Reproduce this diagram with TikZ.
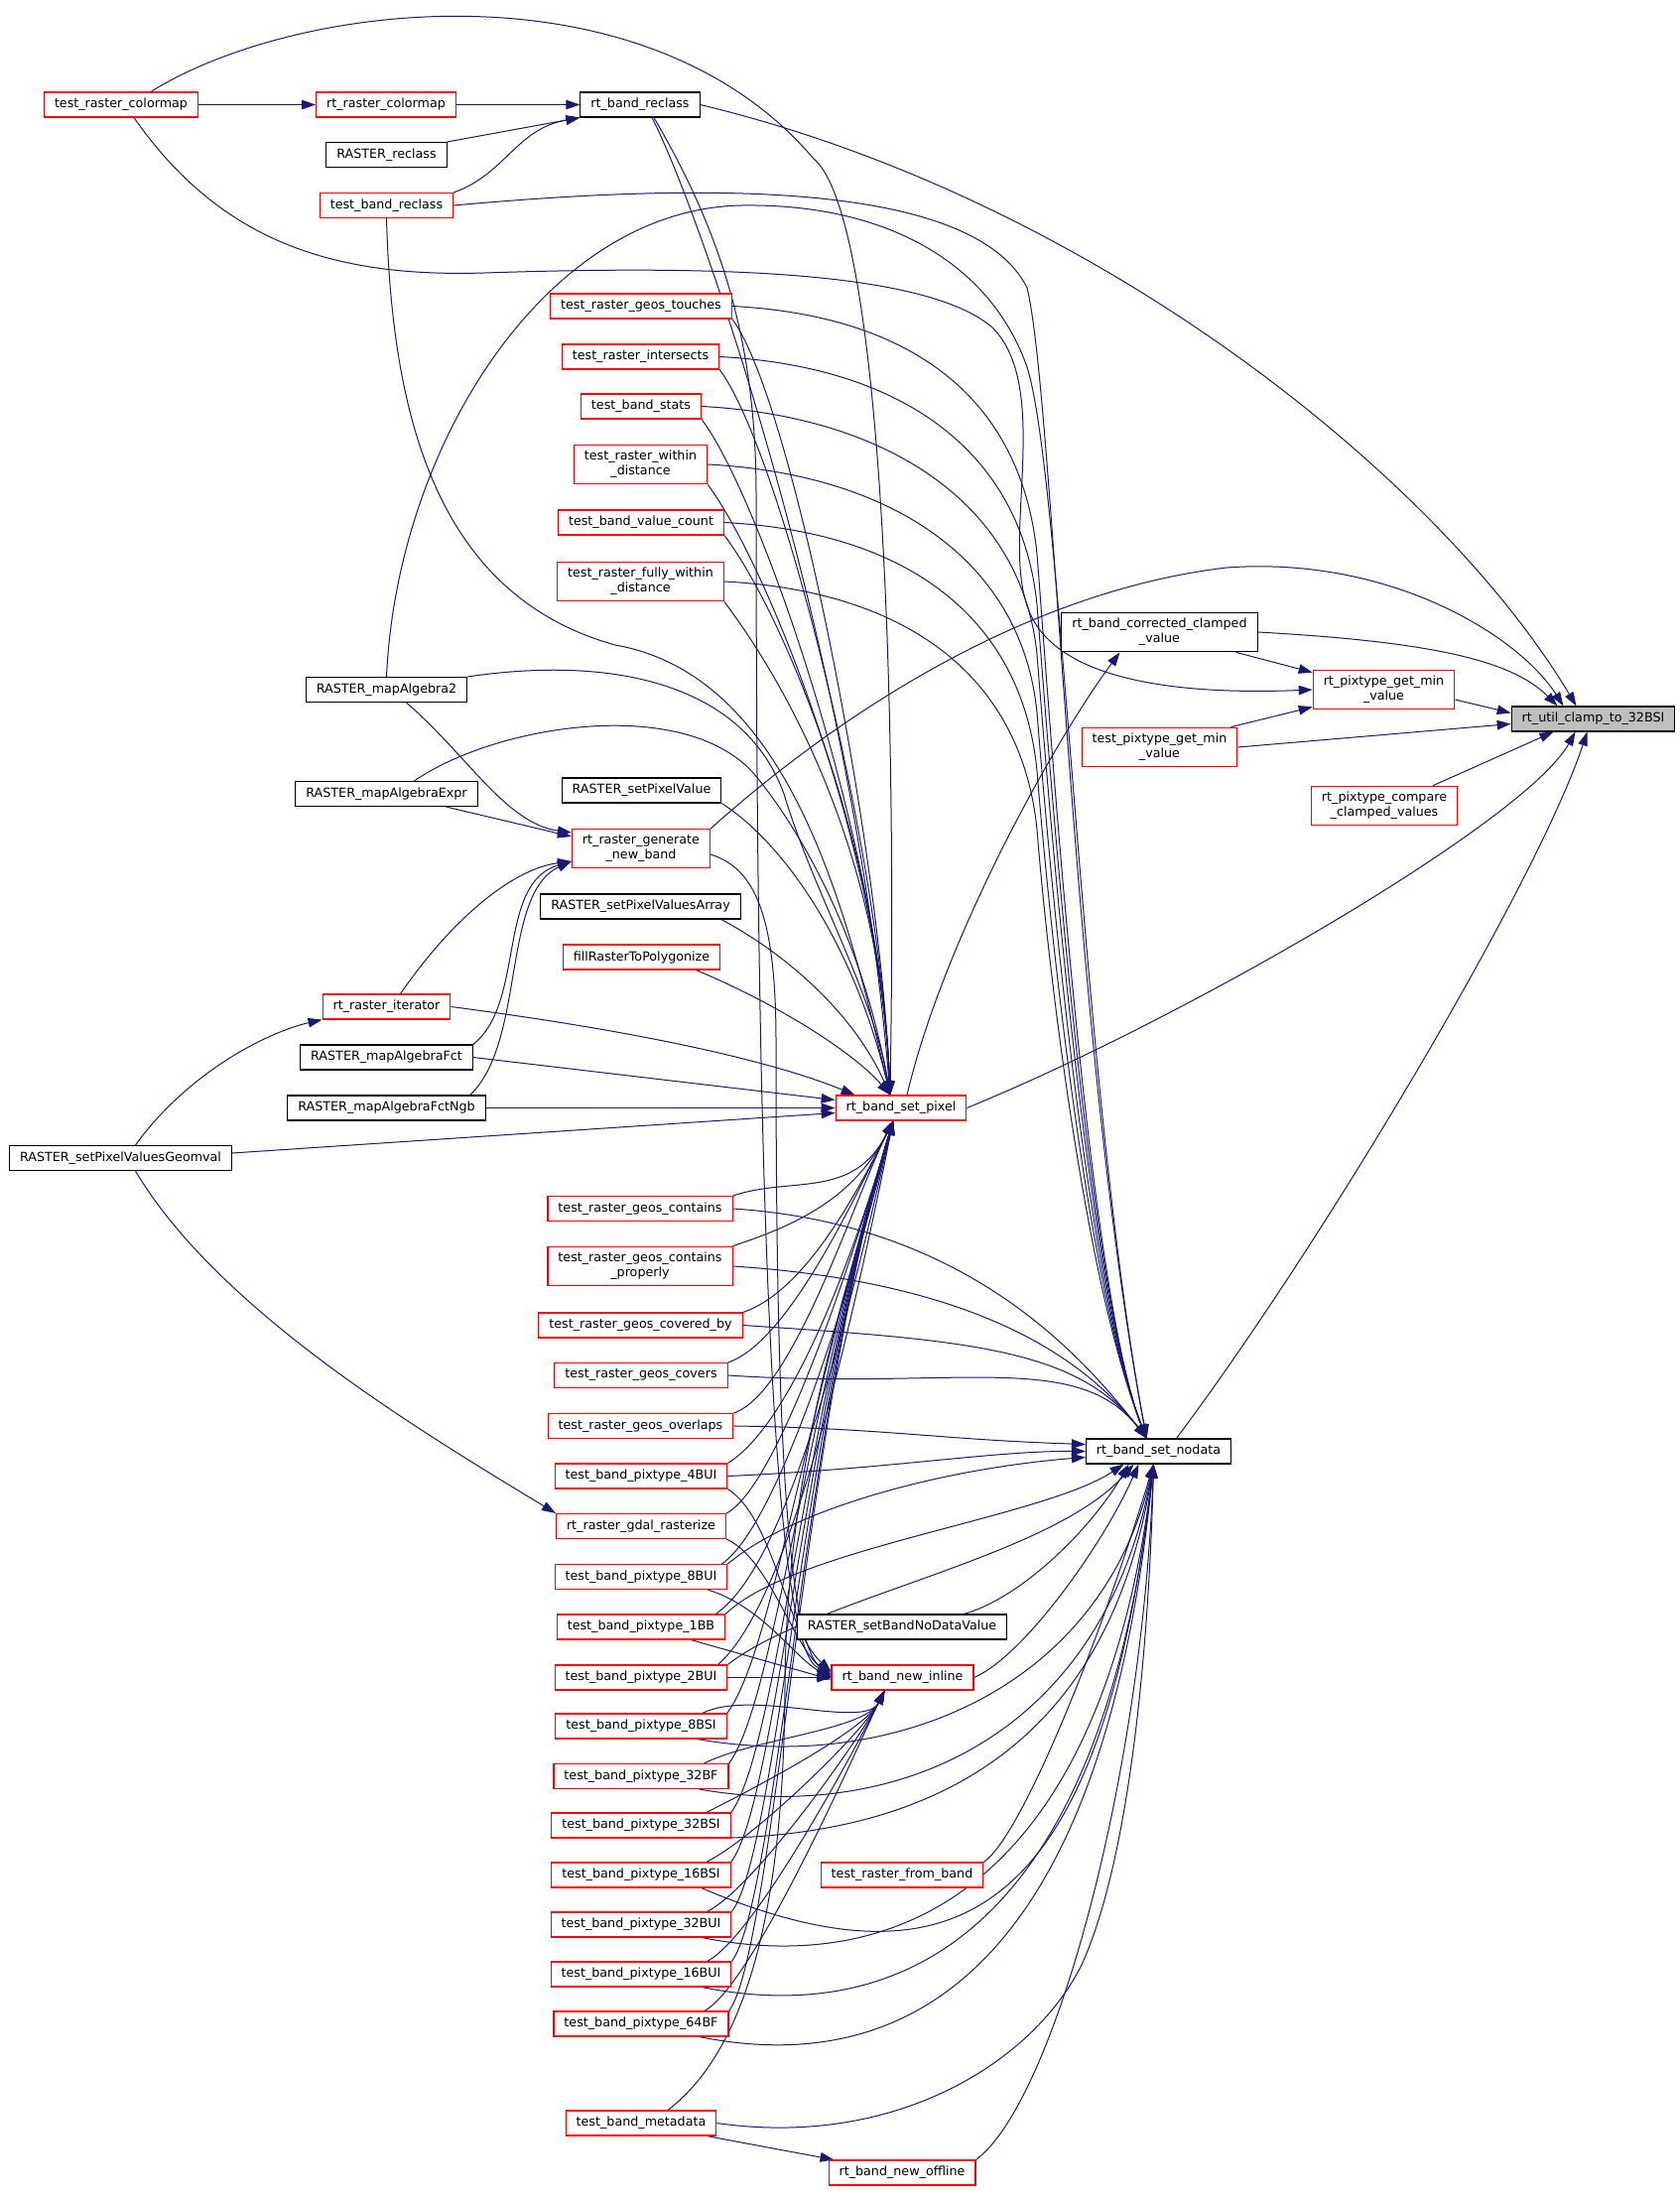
\documentclass[tikz,border=0pt]{standalone}
\usepackage{fontspec}
\setmainfont{DejaVu Sans}
\usetikzlibrary{arrows.meta}
\pgfdeclarelayer{fundo}
\pgfsetlayers{fundo,main}
\definecolor{arestas}{HTML}{191970}
\definecolor{alvo}{HTML}{BFBFBF}
\tikzset{
	fn/.style={draw=red, line width=1.1pt, fill=white, font=\fontsize{12.7}{15}\selectfont, inner xsep=10.5pt, inner ysep=6pt, minimum height=25pt, align=center},
	fnpreto/.style={fn, draw=black},
	fnalvo/.style={fnpreto, fill=alvo},
	chama/.style={draw=arestas, line width=1pt, -{Triangle[length=14pt,width=9.5pt]}}
}
\begin{document}
\begin{tikzpicture}[x=1pt,y=-1pt]
\begin{pgfonlayer}{fundo}
	\fill[white] (0,0) rectangle (1693,2215);
\end{pgfonlayer}
\useasboundingbox (0,0) rectangle (1693,2215);

% coluna da esquerda
	\node[fn] (trc) at (122,105.5) {test\_raster\_colormap};
	\node[fnpreto] (Rspvg) at (121.5,1167) {RASTER\_setPixelValuesGeomval};

% segunda coluna
	\node[fn] (rrc) at (389,105.5) {rt\_raster\_colormap};
	\node[fnpreto] (Rrec) at (389.5,156) {RASTER\_reclass};
	\node[fn] (tbr) at (389.5,207) {test\_band\_reclass};
	\node[fnpreto] (Rma2) at (389.5,695) {RASTER\_mapAlgebra2};
	\node[fnpreto] (Rmae) at (389.5,800) {RASTER\_mapAlgebraExpr};
	\node[fn] (rri) at (389.5,1014.5) {rt\_raster\_iterator};
	\node[fnpreto] (Rmaf) at (389.5,1065.5) {RASTER\_mapAlgebraFct};
	\node[fnpreto] (Rmafn) at (389.5,1116.5) {RASTER\_mapAlgebraFctNgb};

% coluna do meio
	\node[fnpreto] (rbr) at (645,105.5) {rt\_band\_reclass};
	\node[fn] (tgt) at (646,308.5) {test\_raster\_geos\_touches};
	\node[fn] (tri) at (645.5,359.5) {test\_raster\_intersects};
	\node[fn] (tbs) at (646,409.5) {test\_band\_stats};
	\node[fn] (trwd) at (645.5,468) {test\_raster\_within\\\_distance};
	\node[fn] (tbvc) at (646,526.5) {test\_band\_value\_count};
	\node[fn] (trfwd) at (645.5,586) {test\_raster\_fully\_within\\\_distance};
	\node[fnpreto] (Rspv) at (646.5,796.5) {RASTER\_setPixelValue};
	\node[fn] (rgnb) at (646,855) {rt\_raster\_generate\\\_new\_band};
	\node[fnpreto] (Rspva) at (645.5,913.5) {RASTER\_setPixelValuesArray};
	\node[fn] (frtp) at (646.5,964.5) {fillRasterToPolygonize};
	\node[fn] (tgc) at (645,1218) {test\_raster\_geos\_contains};
	\node[fn] (tgcp) at (645,1276) {test\_raster\_geos\_contains\\\_properly};
	\node[fn] (tgcb) at (645.5,1335.5) {test\_raster\_geos\_covered\_by};
	\node[fn] (tgcv) at (646,1386) {test\_raster\_geos\_covers};
	\node[fn] (tgo) at (645.5,1437) {test\_raster\_geos\_overlaps};
	\node[fn] (rgr) at (646,1538) {rt\_raster\_gdal\_rasterize};
	\foreach \t/\y in {4BUI/1487.5, 8BUI/1589, 1BB/1639.5, 2BUI/1690.5, 8BSI/1739.5, 32BF/1790, 32BSI/1839.5, 16BSI/1889.5, 32BUI/1939.5, 16BUI/1989.5, 64BF/2039.5}
		\node[fn] (p\t) at (646,\y) {test\_band\_pixtype\_\t};
	\node[fn] (tbm) at (646,2139.5) {test\_band\_metadata};

% quarta coluna
	\node[fn] (sp) at (908,1116.5) {rt\_band\_set\_pixel};
	\node[fnpreto] (Rsbnd) at (909,1639.5) {RASTER\_setBandNoDataValue};
	\node[fn] (nin) at (909.5,1690.5) {rt\_band\_new\_inline};
	\node[fn] (trfb) at (909,1889.5) {test\_raster\_from\_band};
	\node[fn] (nof) at (909,2189.5) {rt\_band\_new\_offline};

% coluna da direita
	\node[fnpreto] (cclamp) at (1168.5,637) {rt\_band\_corrected\_clamped\\\_value};
	\node[fn] (tpgm) at (1168.5,753) {test\_pixtype\_get\_min\\\_value};
	\node[fnpreto] (sn) at (1167.5,1462.5) {rt\_band\_set\_nodata};
	\node[fn] (pgm) at (1394.5,695) {rt\_pixtype\_get\_min\\\_value};
	\node[fn] (pcc) at (1395,812) {rt\_pixtype\_compare\\\_clamped\_values};
	\node[fnalvo] (clamp) at (1605.5,724.5) {rt\_util\_clamp\_to\_32BSI};

	\coordinate (spT) at ([xshift=-11pt]sp.north);
	\coordinate (spB) at ([xshift=-8pt]sp.south);
	\coordinate (snT) at ([xshift=-12pt]sn.north);
	\coordinate (snB) at ([xshift=-5pt]sn.south);
	\coordinate (ninB) at ([xshift=-18pt]nin.south);

\begin{pgfonlayer}{fundo}
% chamadas no alto
	\draw[chama] (trc.east) -- (rrc.west);
	\draw[chama] (rrc.east) -- (rbr.west);
	\draw[chama] (Rrec.north east) -- (rbr.south west);
	\draw[chama] (tbr.north east) .. controls (510,175) and (520,130) .. (rbr.south west);
	\draw[chama] ([xshift=30pt]trc.north) .. controls (300,0) and (650,-40) .. (820,160) .. controls (880,210) and (905,600) .. (spT);
	\draw[chama] ([xshift=13pt]trc.south) .. controls (220,240) and (330,280) .. (488,275) .. controls (700,268) and (930,270) .. (1000,330) .. controls (1060,390) and (1010,540) .. (1035,610) .. controls (1060,690) and (1200,700) .. (pgm.west);
	\draw[chama] (tbr.south) .. controls (395,420) and (440,600) .. (620,650) .. controls (790,680) and (850,900) .. (spT);
	\draw[chama] (tbr.east) .. controls (700,185) and (980,180) .. (1035,290) .. controls (1062,400) and (1080,1050) .. (snT);
	\draw[chama] (rbr.east) .. controls (1100,200) and (1450,480) .. ([xshift=-17pt]clamp.north);
	\draw[chama] ([xshift=12pt]rbr.south) .. controls (700,200) and (860,650) .. (spT);
	\draw[chama] ([xshift=14pt]rbr.south) .. controls (730,240) and (762,350) .. (762,500) .. controls (762,1000) and (770,1660) .. ([yshift=5pt]nin.west);

% testes do meio
	\foreach \n/\y in {tgt/308.5, tri/359.5, tbs/409.5, trwd/468, tbvc/526.5, trfwd/586}{
		\draw[chama] (\n.south east) .. controls +(60,80) and +(-10,-250) .. (spT);
		\draw[chama] (\n.east) .. controls +(190,10) and +(-15,-150) .. (1045,\y+250) .. controls +(12,150) and +(-60,-150) .. (snT);
	}

% funcoes RASTER
	\draw[chama] (Rma2.north) .. controls (400,450) and (550,210) .. (748,207) .. controls (900,205) and (1000,270) .. (1035,370) .. controls (1070,480) and (1090,1100) .. (snT);
	\draw[chama] (Rma2.north east) .. controls (620,660) and (750,690) .. (790,800) .. controls (820,900) and (880,1000) .. (spT);
	\draw[chama] ([xshift=20pt]Rma2.south) .. controls (470,760) and (510,830) .. ([yshift=-4pt]rgnb.north west);
	\draw[chama] ([xshift=-32pt]Rmae.south east) -- ([yshift=-8pt]rgnb.north west);
	\draw[chama] ([xshift=28pt]Rmae.north) .. controls (500,730) and (690,700) .. (760,780) .. controls (810,840) and (870,950) .. (spT);
	\draw[chama] (Rspv.south east) .. controls (790,850) and (860,950) .. (spT);
	\draw[chama] ([xshift=-20pt]Rspva.south east) .. controls (790,960) and (860,1020) .. (spT);
	\draw[chama] ([xshift=-25pt]frtp.south east) .. controls (780,1010) and (860,1060) .. (spT);
	\draw[chama] ([xshift=14pt]rri.north) .. controls (460,920) and (520,875) .. ([yshift=-13pt]rgnb.west);
	\draw[chama] (rri.east) .. controls (650,1040) and (780,1070) .. ([xshift=20pt]sp.north west);
	\draw[chama] (Rmaf.north east) .. controls (530,1010) and (500,890) .. ([yshift=-13pt]rgnb.west);
	\draw[chama] (Rmaf.east) -- ([yshift=8pt]sp.west);
	\draw[chama] ([xshift=-16pt]Rmafn.north east) .. controls (530,1050) and (505,900) .. ([yshift=-13pt]rgnb.west);
	\draw[chama] (Rmafn.east) -- (sp.west);
	\draw[chama] ([xshift=15pt]Rspvg.north) .. controls (190,1080) and (270,1040) .. (rri.south west);
	\draw[chama] ([yshift=5pt]Rspvg.east) -- ([yshift=-5pt]sp.west);
	\draw[chama] ([xshift=15pt]Rspvg.south) .. controls (220,1320) and (420,1440) .. (rgr.north west);
	\draw[chama] (rgnb.north east) .. controls (800,760) and (1000,600) .. (1236,572) .. controls (1400,560) and (1530,640) .. ([xshift=-30pt]clamp.north);
	\draw[chama] ([yshift=-6pt]rgnb.east) .. controls (760,875) and (782,920) .. (782,1050) .. controls (782,1400) and (790,1650) .. ([yshift=1pt]nin.west);

% testes geos
	\foreach \n in {tgc, tgcp, tgcb, tgcv, tgo}
		\draw[chama] (\n.north east) .. controls +(60,-20) and +(-40,80) .. (spB);
	\foreach \n in {tgc, tgcp, tgcb, tgcv}
		\draw[chama] (\n.east) .. controls +(230,15) and +(-70,-90) .. (snT);
	\draw[chama] (tgo.east) .. controls +(150,2) and +(-150,-5) .. ([yshift=7pt]sn.west);

% testes de pixtype
	\draw[chama] (p4BUI.north east) .. controls (790,1440) and (850,1300) .. (spB);
	\draw[chama] (p4BUI.east) .. controls (900,1480) and (1000,1462) .. (sn.west);
	\draw[chama] (p4BUI.south east) .. controls (780,1530) and (790,1640) .. ([yshift=6pt]nin.west);
	\draw[chama] (rgr.north east) .. controls (780,1500) and (850,1300) .. (spB);
	\draw[chama] (rgr.south east) .. controls (775,1570) and (800,1660) .. ([yshift=3pt]nin.west);
	\draw[chama] ([xshift=-6pt]p8BUI.north east) .. controls (780,1540) and (850,1330) .. (spB);
	\draw[chama] (p8BUI.north east) .. controls (800,1520) and (950,1480) .. ([yshift=-6pt]sn.west);
	\draw[chama] ([xshift=-20pt]p8BUI.south east) .. controls (770,1620) and (800,1670) .. (nin.west);
	\draw[chama] ([xshift=-10pt]p1BB.north east) .. controls (790,1580) and (850,1350) .. (spB);
	\draw[chama] (p1BB.north east) .. controls (800,1560) and (1050,1530) .. ([xshift=-35pt]sn.south);
	\draw[chama] ([xshift=-35pt]p1BB.south east) -- ([yshift=-2pt]nin.west);
	\draw[chama] ([xshift=-10pt]p2BUI.north east) .. controls (790,1620) and (850,1380) .. (spB);
	\draw[chama] (p2BUI.north east) .. controls (820,1610) and (1060,1570) .. ([xshift=-25pt]sn.south);
	\draw[chama] (p2BUI.east) -- (nin.west);
	\foreach \t/\y/\dx/\dy/\cy in {8BSI/1739.5/200/35/-40, 32BF/1790/200/35/-40, 32BSI/1839.5/180/0/-40, 16BSI/1889.5/260/110/40, 32BUI/1939.5/200/40/-40, 16BUI/1989.5/200/40/-40, 64BF/2039.5/200/40/-40}{
		\draw[chama] (p\t.north east) .. controls +(45,-60) and +(-90,300) .. (spB);
		\draw[chama] ([xshift=-25pt]p\t.north east) .. controls +(50,-25) and +(-20,40) .. (ninB);
		\draw[chama] ([xshift=-30pt]p\t.south east) .. controls +(\dx,\dy) and (1110,\y+\cy) .. (snB);
	}

% parte de baixo
	\draw[chama] ([xshift=-10pt]tbm.south east) -- ([xshift=6pt]nof.north west);
	\draw[chama] (tbm.east) .. controls (900,2165) and (1040,2080) .. (1090,1980) .. controls (1140,1870) and (1158,1650) .. (snB);
	\draw[chama] ([xshift=27pt]tbm.north) .. controls (760,2060) and (790,1900) .. (791,1700) .. controls (792,1450) and (870,1250) .. (spB);
	\draw[chama] (nof.north east) .. controls (1060,2120) and (1150,1800) .. (snB);
	\draw[chama] (trfb.north east) .. controls (1030,1850) and (1110,1650) .. (snB);
	\draw[chama] ([xshift=-44pt]Rsbnd.north east) .. controls (1030,1610) and (1100,1540) .. ([xshift=-30pt]sn.south);
	\draw[chama] (nin.east) .. controls (1030,1670) and (1110,1560) .. ([xshift=-20pt]sn.south);

% chamadas da direita
	\draw[chama] ([xshift=6pt]sp.north) .. controls (950,950) and (1060,750) .. ([xshift=-40pt]cclamp.south);
	\draw[chama] (sp.east) .. controls +(220,-90) and +(-50,90) .. ([xshift=-18pt]clamp.south);
	\draw[chama] ([xshift=18pt]sn.north) .. controls +(150,-200) and +(-50,150) .. ([xshift=-6pt]clamp.south);
	\draw[chama] ([xshift=-22pt]cclamp.south east) -- ([yshift=-3pt]pgm.north west);
	\draw[chama] (cclamp.east) .. controls +(180,10) and +(-45,-45) .. ([xshift=-36pt]clamp.north);
	\draw[chama] ([xshift=-7pt]tpgm.north east) -- ([yshift=3pt]pgm.south west);
	\draw[chama] (tpgm.east) -- ([yshift=-5pt]clamp.west);
	\draw[chama] ([yshift=-10pt]pgm.east) -- ([yshift=6pt]clamp.west);
	\draw[chama] ([xshift=-25pt]pcc.north east) -- ([xshift=-40pt]clamp.south);
\end{pgfonlayer}
\end{tikzpicture}
\end{document}
